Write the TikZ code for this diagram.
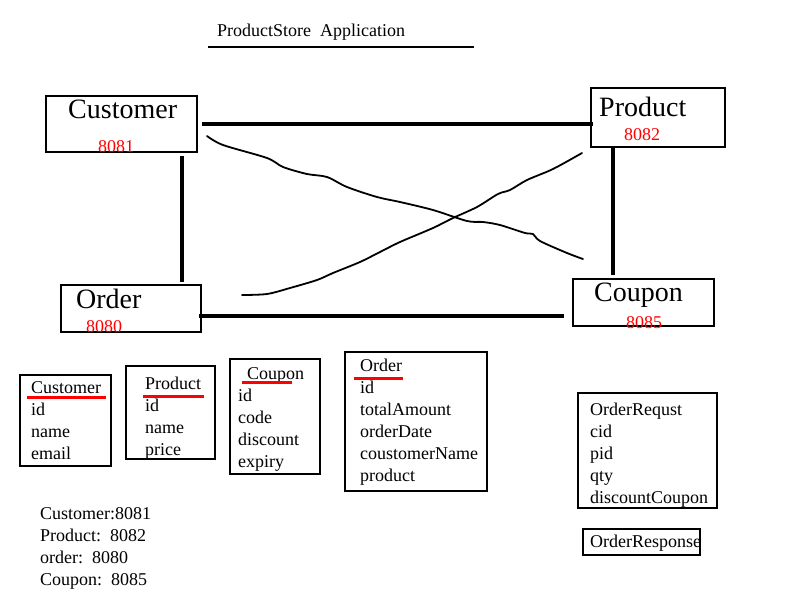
\documentclass[tikz,border=0pt]{standalone}
\usepackage{fontspec}
\setmainfont{Liberation Serif}
\begin{document}
\begin{tikzpicture}[x=1pt,y=-1pt,
  box/.style={draw, line width=2pt, anchor=north west, inner sep=0pt, outer sep=0pt},
  txt/.style={anchor=base west, inner sep=0pt, font=\fontsize{18}{22}\selectfont},
  big/.style={anchor=base west, inner sep=0pt, font=\fontsize{28}{32}\selectfont},
  port/.style={anchor=base west, inner sep=0pt, text=red, font=\fontsize{18}{22}\selectfont},
  link/.style={line width=4pt},
  scrib/.style={line width=1.8pt, line join=round, line cap=round},
  redline/.style={red, line width=3pt}]
\useasboundingbox (0,0) rectangle (800,600);
% title
\node[txt] (title) at (217,36) {ProductStore\ \ Application};
\coordinate (tl) at (208,47); \coordinate (tr) at (474,47);
\draw[line width=2pt] (tl) -- (tr);
% service boxes
\node[box, minimum width=151pt, minimum height=56pt] (cust) at (46,96) {};
\node[big] (custL) at (68,118) {Customer};
\node[port] (custP) at (98,152) {8081};
\node[box, minimum width=134pt, minimum height=59pt] (prod) at (591,88) {};
\node[big] (prodL) at (599,116) {Product};
\node[port] (prodP) at (624,140) {8082};
\node[box, minimum width=140pt, minimum height=47pt] (ord) at (61,285) {};
\node[big] (ordL) at (76,308) {Order};
\node[port] (ordP) at (86,332) {8080};
\node[box, minimum width=141pt, minimum height=47pt] (coup) at (573,279) {};
\node[big] (coupL) at (594,301) {Coupon};
\node[port] (coupP) at (626,328) {8085};
% connectors
\coordinate (c1) at (202,124); \coordinate (c2) at (593,124);
\draw[link] (c1) -- (c2);
\coordinate (c3) at (182,156); \coordinate (c4) at (182,282);
\draw[link] (c3) -- (c4);
\coordinate (c5) at (613,148); \coordinate (c6) at (613,275);
\draw[link] (c5) -- (c6);
\coordinate (c7) at (199,316); \coordinate (c8) at (564,316);
\draw[link] (c7) -- (c8);
% hand-drawn crossing curves
\draw[scrib] plot[smooth, tension=0.5] coordinates {(207,136) (223,145) (267,158) (283,167) (307,174) (327,177) (347,187) (377,197) (400,202) (433,210) (467,221) (483,222) (500,225) (525,233) (533,234) (540,241) (567,253) (583,259)};
\draw[scrib] plot[smooth, tension=0.5] coordinates {(242,295) (267,294) (290,288) (317,280) (333,273) (360,262) (380,252) (400,242) (433,228) (453,218) (477,207) (498,194) (510,190) (527,180) (553,169) (582,153)};
% entity tables
\node[box, minimum width=91pt, minimum height=91pt] (tcust) at (20,375) {};
\node[txt] (tc0) at (31,393) {Customer};
\node[txt] (tc1) at (31,415) {id};
\node[txt] (tc2) at (31,437) {name};
\node[txt] (tc3) at (31,459) {email};
\coordinate (u1a) at (27,397); \coordinate (u1b) at (106,397);
\draw[redline] (u1a) -- (u1b);

\node[box, minimum width=89pt, minimum height=93pt] (tprod) at (126,366) {};
\node[txt] (tp0) at (145,389) {Product};
\node[txt] (tp1) at (145,411) {id};
\node[txt] (tp2) at (145,433) {name};
\node[txt] (tp3) at (145,455) {price};
\coordinate (u2a) at (143,396); \coordinate (u2b) at (204,396);
\draw[redline] (u2a) -- (u2b);

\node[box, minimum width=90pt, minimum height=115pt] (tcoup) at (230,359) {};
\node[txt] (tq0) at (247,379) {Coupon};
\node[txt] (tq1) at (238,401) {id};
\node[txt] (tq2) at (238,423) {code};
\node[txt] (tq3) at (238,445) {discount};
\node[txt] (tq4) at (238,467) {expiry};
\coordinate (u3a) at (242,382); \coordinate (u3b) at (292,382);
\draw[redline] (u3a) -- (u3b);

\node[box, minimum width=142pt, minimum height=139pt] (tord) at (345,352) {};
\node[txt] (to0) at (360,371) {Order};
\node[txt] (to1) at (360,393) {id};
\node[txt] (to2) at (360,415) {totalAmount};
\node[txt] (to3) at (360,437) {orderDate};
\node[txt] (to4) at (360,459) {coustomerName};
\node[txt] (to5) at (360,481) {product};
\coordinate (u4a) at (354,378); \coordinate (u4b) at (403,378);
\draw[redline] (u4a) -- (u4b);

% request / response
\node[box, minimum width=139pt, minimum height=115pt] (req) at (578,393) {};
\node[txt] (r0) at (590,415) {OrderRequst};
\node[txt] (r1) at (590,437) {cid};
\node[txt] (r2) at (590,459) {pid};
\node[txt] (r3) at (590,481) {qty};
\node[txt] (r4) at (590,503) {discountCoupon};
\node[box, minimum width=117pt, minimum height=26pt] (resp) at (583,529) {};
\node[txt] (rs) at (590,547) {OrderResponse};

% legend
\node[txt] (l0) at (40,519) {Customer:8081};
\node[txt] (l1) at (40,541) {Product:\ \ 8082};
\node[txt] (l2) at (40,563) {order:\ \ 8080};
\node[txt] (l3) at (40,585) {Coupon:\ \ 8085};
\end{tikzpicture}
\end{document}
